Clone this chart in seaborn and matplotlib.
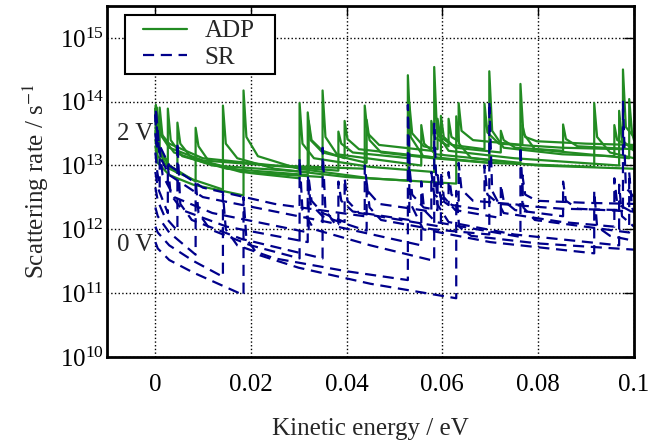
import numpy as np
import pandas as pd
import matplotlib
matplotlib.use("Agg")
import matplotlib.pyplot as plt
from matplotlib.lines import Line2D
from matplotlib.patches import Rectangle
from matplotlib.ticker import NullLocator
import seaborn as sns

# kinetic energy (eV), ADP rate and SR rate (1/s), one set per gate voltage 0 V ... 2 V
e0 = [0.0001, 0.0006, 0.003, 0.008, 0.0185, 0.0185, 0.0191, 0.0215, 0.030, 0.045, 0.0629, 0.0629, 0.0635, 0.066, 0.080, 0.100]
adp0 = [2.0e13, 1.1e13, 7.1e12, 5.0e12, 3.4e12, 1.5e14, 2.8e13, 1.4e13, 8.9e12, 6.3e12, 5.2e12, 5.9e13, 2.2e13, 1.3e13, 1.0e13, 8.9e12]
sr0 = [6.3e11, 5.0e11, 3.3e11, 2.1e11, 9.3e10, 3.2e12, 7.1e11, 4.0e11, 2.5e11, 1.4e11, 8.3e10, 4.0e12, 1.1e12, 7.9e11, 6.0e11, 4.8e11]

e1 = [0.0001, 0.0006, 0.003, 0.008, 0.0142, 0.0142, 0.0148, 0.0172, 0.025, 0.040, 0.0528, 0.0528, 0.0534, 0.056, 0.070, 0.0917, 0.0917, 0.0923, 0.095, 0.100]
adp1 = [2.5e13, 1.4e13, 8.9e12, 6.0e12, 4.2e12, 8.7e13, 2.2e13, 1.3e13, 8.9e12, 6.6e12, 5.8e12, 2.6e14, 2.8e13, 1.4e13, 1.1e13, 9.5e12, 9.5e13, 2.8e13, 1.6e13, 1.3e13]
sr1 = [1.1e12, 8.9e11, 5.6e11, 3.2e11, 1.8e11, 3.6e12, 1.0e12, 5.6e11, 3.5e11, 2.2e11, 1.6e11, 8.9e13, 2.5e12, 1.0e12, 6.3e11, 4.2e11, 4.0e12, 1.1e12, 7.9e11, 6.6e11]

e2 = [0.0001, 0.0006, 0.003, 0.0085, 0.0085, 0.0091, 0.0115, 0.020, 0.0302, 0.0302, 0.0308, 0.0332, 0.045, 0.0583, 0.0583, 0.0589, 0.0613, 0.075, 0.0969, 0.0969, 0.0975, 0.100]
adp2 = [3.2e13, 1.8e13, 1.0e13, 5.6e12, 3.9e13, 2.0e13, 1.1e13, 7.6e12, 6.3e12, 9.5e13, 2.2e13, 1.3e13, 9.5e12, 7.9e12, 3.5e14, 3.2e13, 1.7e13, 1.3e13, 1.0e13, 7.2e13, 2.5e13, 1.7e13]
sr2 = [2.2e12, 1.6e12, 8.9e11, 4.0e11, 5.9e12, 1.8e12, 1.0e12, 5.6e11, 3.5e11, 1.3e13, 2.0e12, 1.0e12, 5.6e11, 3.2e11, 4.7e13, 2.5e12, 1.3e12, 8.3e11, 5.6e11, 5.0e12, 1.6e12, 1.1e12]

e3 = [0.0001, 0.0006, 0.002, 0.0047, 0.0047, 0.0053, 0.0077, 0.018, 0.035, 0.035, 0.0356, 0.038, 0.0556, 0.0556, 0.0562, 0.0586, 0.0763, 0.0763, 0.0769, 0.0793, 0.099, 0.099, 0.0996, 0.100]
adp3 = [3.5e13, 2.0e13, 1.1e13, 7.6e12, 4.7e13, 2.2e13, 1.3e13, 7.9e12, 6.6e12, 1.5e14, 2.8e13, 1.5e13, 1.0e13, 4.3e13, 2.2e13, 1.5e13, 1.1e13, 1.9e14, 3.2e13, 1.8e13, 1.3e13, 1.1e14, 3.2e13, 2.5e13]
sr3 = [4.5e12, 2.8e12, 1.6e12, 9.5e11, 2.3e13, 2.5e12, 1.4e12, 7.1e11, 3.5e11, 1.9e13, 2.0e12, 1.1e12, 5.6e11, 5.6e12, 2.0e12, 1.3e12, 7.6e11, 2.0e13, 2.2e12, 1.4e12, 8.9e11, 7.9e12, 2.2e12, 1.8e12]

e4 = [0.0001, 0.0006, 0.0027, 0.0027, 0.0033, 0.0057, 0.015, 0.0319, 0.0319, 0.0325, 0.035, 0.0442, 0.0442, 0.0448, 0.0472, 0.058, 0.0698, 0.0698, 0.0704, 0.0728, 0.085, 0.0959, 0.0959, 0.0965, 0.100]
adp4 = [4.0e13, 2.2e13, 1.1e13, 7.8e13, 2.5e13, 1.4e13, 8.9e12, 7.1e12, 6.8e13, 2.5e13, 1.6e13, 1.1e13, 5.2e13, 2.5e13, 1.6e13, 1.3e13, 1.1e13, 3.0e14, 3.5e13, 1.9e13, 1.5e13, 1.4e13, 4.3e13, 2.5e13, 1.9e13]
sr4 = [7.9e12, 4.5e12, 1.8e12, 1.0e13, 3.5e12, 2.0e12, 1.1e12, 6.3e11, 7.1e12, 2.5e12, 1.6e12, 9.5e11, 5.6e12, 2.2e12, 1.4e12, 1.0e12, 8.3e11, 1.0e14, 4.0e12, 1.8e12, 1.3e12, 1.1e12, 6.3e12, 2.5e12, 1.8e12]

e5 = [0.0001, 0.0005, 0.001, 0.001, 0.0016, 0.004, 0.012, 0.0321, 0.0321, 0.0327, 0.035, 0.0396, 0.0396, 0.0402, 0.0426, 0.0597, 0.0597, 0.0603, 0.0627, 0.0722, 0.0722, 0.0728, 0.0752, 0.0852, 0.0852, 0.0858, 0.0882, 0.100]
adp5 = [5.0e13, 2.5e13, 1.8e13, 8.1e13, 2.8e13, 1.6e13, 1.0e13, 7.9e12, 5.0e13, 2.5e13, 1.7e13, 1.3e13, 5.0e13, 2.6e13, 1.8e13, 1.3e13, 6.0e13, 2.8e13, 1.9e13, 1.6e13, 3.5e13, 2.5e13, 1.9e13, 1.7e13, 4.4e13, 2.6e13, 2.0e13, 1.8e13]
sr5 = [1.6e13, 7.9e12, 4.5e12, 1.8e13, 7.1e12, 3.2e12, 1.8e12, 8.9e11, 6.3e12, 2.8e12, 1.8e12, 1.3e12, 6.3e12, 2.8e12, 1.8e12, 1.1e12, 7.9e12, 3.2e12, 2.0e12, 1.5e12, 5.0e12, 2.8e12, 2.0e12, 1.6e12, 5.6e12, 2.8e12, 2.1e12, 1.9e12]

e6 = [0.0001, 0.0004, 0.0004, 0.0010, 0.003, 0.010, 0.0383, 0.0383, 0.0389, 0.0413, 0.0531, 0.0531, 0.0537, 0.0561, 0.059, 0.059, 0.0596, 0.062, 0.0688, 0.0688, 0.0694, 0.0718, 0.085, 0.0977, 0.0977, 0.0983, 0.100]
adp6 = [6.3e13, 3.5e13, 8.1e13, 3.2e13, 1.9e13, 1.2e13, 8.3e12, 3.4e13, 2.2e13, 1.6e13, 1.3e13, 9.5e13, 3.2e13, 2.0e13, 1.8e13, 5.4e13, 2.8e13, 2.1e13, 1.8e13, 9.3e13, 3.3e13, 2.2e13, 1.9e13, 1.8e13, 3.2e14, 4.0e13, 2.8e13]
sr6 = [3.2e13, 1.8e13, 4.0e13, 1.4e13, 7.1e12, 3.2e12, 1.2e12, 5.6e12, 2.8e12, 1.9e12, 1.4e12, 1.0e13, 3.5e12, 2.2e12, 2.0e12, 7.1e12, 3.2e12, 2.4e12, 2.0e12, 1.0e13, 3.5e12, 2.5e12, 2.1e12, 2.0e12, 1.0e14, 4.5e12, 3.2e12]

e7 = [0.0001, 0.0002, 0.0002, 0.0008, 0.003, 0.010, 0.025, 0.0438, 0.0438, 0.0444, 0.0468, 0.0577, 0.0577, 0.0583, 0.0613, 0.0613, 0.0619, 0.0634, 0.0634, 0.064, 0.0664, 0.0767, 0.0767, 0.0773, 0.0797, 0.090, 0.100]
adp7 = [7.9e13, 5.0e13, 8.9e13, 3.5e13, 2.2e13, 1.3e13, 1.0e13, 8.9e12, 8.7e13, 3.2e13, 2.1e13, 1.7e13, 5.0e13, 2.8e13, 2.0e13, 5.4e13, 2.8e13, 2.4e13, 9.5e13, 3.5e13, 2.5e13, 2.1e13, 4.3e13, 2.8e13, 2.4e13, 2.2e13, 2.1e13]
sr7 = [6.3e13, 4.0e13, 7.9e13, 2.2e13, 1.0e13, 4.5e12, 2.5e12, 1.6e12, 1.0e13, 4.0e12, 2.5e12, 1.9e12, 7.9e12, 3.5e12, 2.4e12, 7.9e12, 3.5e12, 2.8e12, 1.1e13, 4.2e12, 2.8e12, 2.4e12, 7.1e12, 3.5e12, 2.8e12, 2.6e12, 2.5e12]

xticks = [0, 0.02, 0.04, 0.06, 0.08, 0.1]
xtick_labels = ["0", "0.02", "0.04", "0.06", "0.08", "0.1"]
yticks = [1e10, 1e11, 1e12, 1e13, 1e14, 1e15]

curves = [(e0, adp0, sr0), (e1, adp1, sr1), (e2, adp2, sr2), (e3, adp3, sr3),
          (e4, adp4, sr4), (e5, adp5, sr5), (e6, adp6, sr6), (e7, adp7, sr7)]
rows = []
for i, (e, a, s) in enumerate(curves):
    for x, ya, ys in zip(e, a, s):
        rows.append((i, x, ya, ys))
df = pd.DataFrame(rows, columns=["curve", "energy", "adp", "sr"])

sns.set_style("white")
plt.rcParams["font.family"] = ["Liberation Serif", "DejaVu Serif"]
plt.rcParams["mathtext.fontset"] = "stix"
fs = 18

fig = plt.figure(figsize=(6.67, 4.45), dpi=100)
ax = fig.add_subplot(111)
fig.subplots_adjust(left=0.1604, right=0.9505, bottom=0.198, top=0.9865)
ax.set_yscale("log")

green = "#228b22"
blue = "#00008b"
dash = (0, (5, 3))
sns.lineplot(data=df, x="energy", y="adp", units="curve", estimator=None, sort=False,
             color=green, lw=1.6, ax=ax, legend=False)
sns.lineplot(data=df, x="energy", y="sr", units="curve", estimator=None, sort=False,
             color=blue, lw=1.6, linestyle=dash, ax=ax, legend=False)

ax.set_xlim(-0.01, 0.1)
ax.set_ylim(1e10, 10 ** 15.5)
ax.set_xticks(xticks)
ax.set_xticklabels(xtick_labels)
ax.set_yticks(yticks)
ax.yaxis.set_minor_locator(NullLocator())
ax.tick_params(direction="in", top=True, right=True, length=7, width=1, labelsize=fs, colors="black")
ax.tick_params(axis="x", pad=12)
ax.tick_params(axis="y", pad=2)
ax.grid(True, linestyle=":", color="black", lw=1)
ax.set_axisbelow(True)
for sp in ax.spines.values():
    sp.set_linewidth(2)
    sp.set_color("black")

ax.set_xlabel("Kinetic energy / eV", fontsize=fs, labelpad=16)
ax.set_ylabel("Scattering rate / s$^{-1}$", fontsize=fs, labelpad=6)

ax.text(-0.0079, 10 ** 13.5, "2 V", fontsize=fs, va="center", ha="left")
ax.text(-0.0079, 10 ** 11.75, "0 V", fontsize=fs, va="center", ha="left")

# legend box drawn separately so its padding can match the original
ax.add_patch(Rectangle((0.034, 0.806), 0.285, 0.168, transform=ax.transAxes,
                       facecolor="white", edgecolor="black", lw=1.5, zorder=4))
handles = [Line2D([], [], color=green, lw=1.6),
           Line2D([], [], color=blue, lw=1.6, linestyle=dash)]
leg = ax.legend(handles, ["ADP", "SR"], loc="center left", bbox_to_anchor=(0.068, 0.89),
                borderaxespad=0, borderpad=0, fontsize=fs, frameon=False,
                handlelength=1.76, handletextpad=0.72, labelspacing=0.17)
leg.set_zorder(5)

fig.savefig("out.png", dpi=100)
